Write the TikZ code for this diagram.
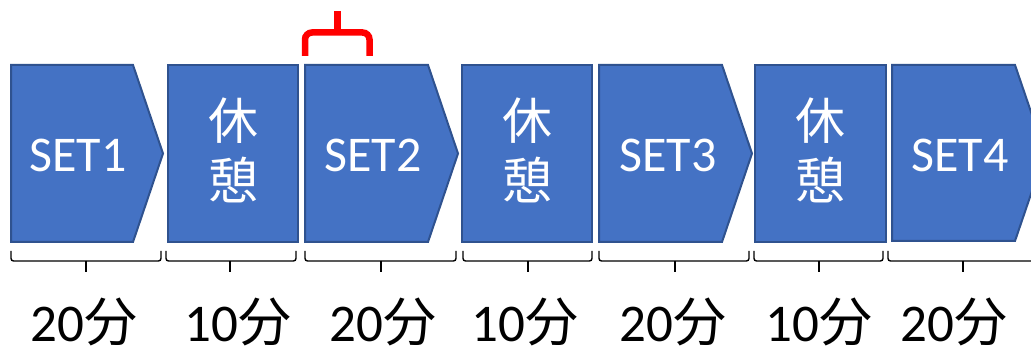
\documentclass[tikz,border=0pt]{standalone}
\usepackage{fontspec}
\setmainfont{Carlito}
\newfontfamily\cjk{Noto Sans CJK JP}
\definecolor{boxfill}{HTML}{4472C4}
\definecolor{boxline}{HTML}{2F528F}
\begin{document}
\begin{tikzpicture}[x=1pt,y=-1pt,
  blk/.style={fill=boxfill, draw=boxline, line width=2pt, line join=miter},
  lab/.style={text=white, inner sep=0pt, anchor=base, font=\fontsize{50}{60}\selectfont},
  labj/.style={lab, font=\cjk\fontsize{50}{60}\selectfont},
  dur/.style={text=black, inner sep=0pt, anchor=base, text depth=0pt, font=\fontsize{53}{60}\selectfont},
  brc/.style={draw=black, line width=1.4pt, rounded corners=2.5pt},
  redbrc/.style={draw=red, line width=6.5pt, rounded corners=7pt}]
\clip (0,0) rectangle (1031,347);
\fill[white] (0,0) rectangle (1031,347);
% blocks
\path[blk] (11,65) -- (133,65) -- (163,153.5) -- (133,242) -- (11,242) -- cycle;
\path[blk] (168,65) rectangle (298,242);
\path[blk] (305,65) -- (428,65) -- (458,153.5) -- (428,242) -- (305,242) -- cycle;
\path[blk] (462,65) rectangle (592,242);
\path[blk] (599,65) -- (722,65) -- (752,153.5) -- (722,242) -- (599,242) -- cycle;
\path[blk] (755,65) rectangle (886,242);
\path[blk] (892,65) -- (1015,65) -- (1045,153) -- (1015,241) -- (892,241) -- cycle;
% texts
\node[lab] (t1) at (78,172) {SET1};
\node[lab] (t2) at (373,172) {SET2};
\node[lab] (t3) at (668,172) {SET3};
\node[lab] (t4) at (960,172) {SET4};
\foreach \x/\n in {233/1,527/2,820/3}{
  \node[labj] (k\n a) at (\x,139.5) {休};
  \node[labj] (k\n b) at (\x,199.5) {憩};
}
% braces
\foreach \a/\b/\t in {11/161/86,166/296/230,305/456/381,463/592/528,599/749/675,754/883/819,888/1038/963}{
  \draw[brc] (\a,251) -- (\a,261) -- (\b,261) -- (\b,251);
  \draw[brc] (\t,261) -- (\t,272);
}
% red brace
\draw[redbrc] (305,56) |- (337.5,32.5) -| (369.5,56);
\draw[red, line width=6.5pt] (337.5,33) -- (337.5,11);
% durations
\foreach \x/\v/\n in {84/20/1,238/10/2,383/20/3,525/10/4,673/20/5,819/10/6,954/20/7}{
  \node[dur] (d\n) at (\x,341.5) {\v{\cjk 分}};
}
\end{tikzpicture}
\end{document}
